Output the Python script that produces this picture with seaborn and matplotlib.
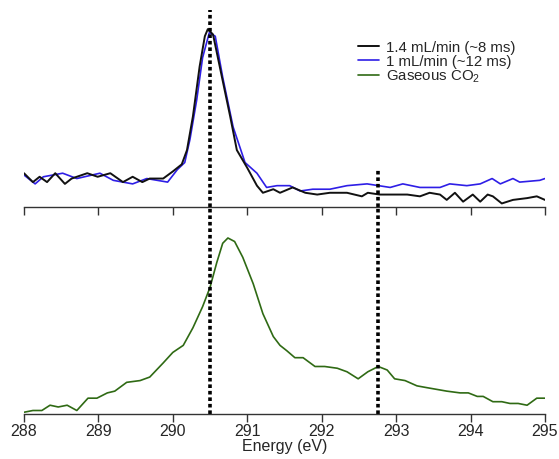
import numpy as np
import pandas as pd
import matplotlib
matplotlib.use("Agg")
import matplotlib.pyplot as plt
import seaborn as sns

# ── Data ──────────────────────────────────────────────────
energy_fast = [288.00, 288.12, 288.21, 288.31, 288.42, 288.55, 288.64, 288.85, 288.99, 289.16,
               289.33, 289.46, 289.59, 289.69, 289.87, 290.00, 290.12, 290.19, 290.27, 290.36,
               290.43, 290.47, 290.54, 290.63, 290.77, 290.86, 291.00, 291.13, 291.21, 291.35,
               291.44, 291.61, 291.78, 291.94, 292.11, 292.34, 292.54, 292.62, 292.78, 292.96,
               293.15, 293.32, 293.45, 293.59, 293.68, 293.79, 293.90, 294.03, 294.13, 294.23,
               294.30, 294.42, 294.57, 294.76, 294.89, 295.00]
signal_fast = [0.19, 0.14, 0.17, 0.14, 0.19, 0.13, 0.16, 0.19, 0.17, 0.19,
               0.14, 0.17, 0.14, 0.16, 0.16, 0.20, 0.24, 0.32, 0.51, 0.79,
               0.96, 1.00, 0.97, 0.79, 0.51, 0.32, 0.22, 0.12, 0.08, 0.10,
               0.08, 0.11, 0.08, 0.07, 0.08, 0.08, 0.06, 0.08, 0.07, 0.07,
               0.07, 0.06, 0.08, 0.07, 0.04, 0.08, 0.03, 0.07, 0.03, 0.07,
               0.06, 0.02, 0.04, 0.05, 0.06, 0.04]

energy_slow = [288.00, 288.15, 288.26, 288.52, 288.71, 289.02, 289.20, 289.46, 289.65, 289.93,
               290.06, 290.16, 290.23, 290.32, 290.40, 290.49, 290.57, 290.67, 290.81, 290.97,
               291.13, 291.26, 291.40, 291.57, 291.71, 291.88, 292.11, 292.34, 292.61, 292.92,
               293.09, 293.32, 293.59, 293.72, 293.95, 294.13, 294.29, 294.40, 294.57, 294.66,
               294.93, 295.00]
signal_slow = [0.18, 0.13, 0.17, 0.19, 0.16, 0.19, 0.15, 0.13, 0.16, 0.14,
               0.21, 0.25, 0.38, 0.60, 0.84, 0.98, 0.96, 0.73, 0.45, 0.25,
               0.19, 0.11, 0.12, 0.12, 0.09, 0.10, 0.10, 0.12, 0.13, 0.11,
               0.13, 0.11, 0.11, 0.13, 0.12, 0.13, 0.16, 0.13, 0.16, 0.14,
               0.15, 0.16]

energy_gas = [288.00, 288.12, 288.24, 288.35, 288.46, 288.58, 288.71, 288.86, 288.98, 289.12,
              289.22, 289.38, 289.56, 289.69, 289.87, 290.00, 290.14, 290.27, 290.40, 290.50,
              290.59, 290.67, 290.74, 290.83, 290.94, 291.08, 291.21, 291.35, 291.44, 291.53,
              291.64, 291.75, 291.91, 292.04, 292.21, 292.34, 292.49, 292.62, 292.76, 292.88,
              292.98, 293.12, 293.28, 293.41, 293.68, 293.86, 293.97, 294.09, 294.17, 294.30,
              294.42, 294.53, 294.64, 294.76, 294.89, 295.00]
signal_gas = [0.01, 0.02, 0.02, 0.05, 0.04, 0.05, 0.02, 0.09, 0.09, 0.12,
              0.13, 0.18, 0.19, 0.21, 0.29, 0.35, 0.39, 0.49, 0.61, 0.72,
              0.86, 0.97, 1.00, 0.98, 0.89, 0.74, 0.57, 0.44, 0.39, 0.36,
              0.32, 0.32, 0.27, 0.27, 0.26, 0.24, 0.20, 0.24, 0.27, 0.25,
              0.20, 0.19, 0.16, 0.15, 0.13, 0.12, 0.12, 0.10, 0.10, 0.07,
              0.07, 0.06, 0.06, 0.05, 0.09, 0.09]

peak_main = 290.5
peak_second = 292.75
x_ticks = [288, 289, 290, 291, 292, 293, 294, 295]

# ── Style ─────────────────────────────────────────────────
sns.set_style("white")
plt.rcParams["font.family"] = ["Liberation Sans", "DejaVu Sans"]
plt.rcParams["font.size"] = 11
plt.rcParams["mathtext.fontset"] = "custom"
plt.rcParams["mathtext.rm"] = "Liberation Sans"

BLACK = "#111111"
BLUE = "#2e1ee6"
GREEN = "#2f6a14"
SPINE = "#333333"

fig = plt.figure(figsize=(5.59, 4.59), dpi=100)
ax_top = fig.add_axes([0.0429, 0.549, 0.932, 0.429])
ax_bot = fig.add_axes([0.0429, 0.098, 0.932, 0.451])

df_fast = pd.DataFrame({"energy": energy_fast, "signal": signal_fast})
df_slow = pd.DataFrame({"energy": energy_slow, "signal": signal_slow})
df_gas = pd.DataFrame({"energy": energy_gas, "signal": signal_gas})

sns.lineplot(data=df_slow, x="energy", y="signal", ax=ax_top, color=BLUE, lw=1.2,
             label="1 mL/min (~12 ms)")
sns.lineplot(data=df_fast, x="energy", y="signal", ax=ax_top, color=BLACK, lw=1.4,
             label="1.4 mL/min (~8 ms)")
sns.lineplot(data=df_gas, x="energy", y="signal", ax=ax_bot, color=GREEN, lw=1.2,
             label="Gaseous CO$_2$")

dot_style = dict(color="black", lw=2.6, linestyle=(0, (1, 0.8)))
ax_top.axvline(peak_main, **dot_style)
ax_top.vlines(peak_second, 0, 0.22, **dot_style)
ax_bot.axvline(peak_main, **dot_style)
ax_bot.axvline(peak_second, **dot_style)

ax_top.set_ylim(0, 1.107)
ax_bot.set_ylim(0, 1.176)

for ax in (ax_top, ax_bot):
    ax.set_xlim(288, 295)
    ax.set_xticks(x_ticks)
    ax.set_yticks([])
    ax.set_ylabel("")
    for side in ("left", "right", "top"):
        ax.spines[side].set_visible(False)
    ax.spines["bottom"].set_color(SPINE)
    ax.spines["bottom"].set_linewidth(1.0)
    ax.tick_params(axis="x", direction="out", length=6, width=1.0, color=SPINE,
                   bottom=True, labelsize=11.5, pad=1.5)
    ax.patch.set_alpha(0)

ax_top.set_xlabel("")
ax_top.tick_params(axis="x", labelbottom=False)
ax_bot.set_xlabel("Energy (eV)", fontsize=11.5, labelpad=0)

# legend: combine lines from both panels, order as in reference
h_top, l_top = ax_top.get_legend_handles_labels()
h_bot, l_bot = ax_bot.get_legend_handles_labels()
ax_bot.get_legend().remove()
handles = [h_top[1], h_top[0], h_bot[0]]
labels = [l_top[1], l_top[0], l_bot[0]]
ax_top.legend(handles, labels, loc="upper left", bbox_to_anchor=(0.630, 0.875),
              frameon=False, fontsize=10.8, handlelength=1.4, handletextpad=0.45,
              labelspacing=0.0, borderaxespad=0)

fig.savefig("out.png", dpi=100)
plt.close()
